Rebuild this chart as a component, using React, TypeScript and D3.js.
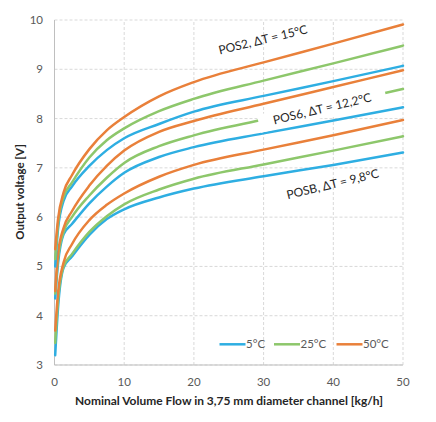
import React from "react";
import * as d3 from "d3";

const flows = [0.1, 0.5, 1.3, 2.5, 5, 7.5, 10, 15, 20, 30, 40, 50];

const pos2_5C = [5.0, 5.75, 6.33, 6.62, 7.04, 7.36, 7.6, 7.89, 8.14, 8.46, 8.76, 9.07];
const pos2_25C = [5.15, 5.85, 6.41, 6.7, 7.21, 7.56, 7.8, 8.15, 8.4, 8.77, 9.12, 9.48];
const pos2_50C = [5.35, 5.95, 6.5, 6.85, 7.38, 7.76, 8.03, 8.45, 8.74, 9.14, 9.52, 9.91];

const pos6_5C = [4.35, 5.05, 5.65, 5.86, 6.28, 6.62, 6.9, 7.22, 7.42, 7.7, 7.96, 8.23];
const pos6_25C = [4.45, 5.15, 5.7, 6.0, 6.44, 6.8, 7.1, 7.44, 7.66, 7.98, 8.28, 8.6];
const pos6_50C = [4.5, 5.25, 5.78, 6.12, 6.64, 7.04, 7.35, 7.73, 7.95, 8.3, 8.64, 8.98];

const posB_5C = [3.2, 4.15, 4.97, 5.2, 5.64, 5.96, 6.16, 6.4, 6.58, 6.83, 7.06, 7.31];
const posB_25C = [3.45, 4.3, 5.0, 5.25, 5.7, 6.02, 6.26, 6.56, 6.78, 7.07, 7.35, 7.64];
const posB_50C = [3.7, 4.45, 5.08, 5.45, 5.94, 6.25, 6.48, 6.82, 7.06, 7.37, 7.66, 7.97];

const temps = ["5°C", "25°C", "50°C"];
const colors = ["#2EAEE2", "#8DC76B", "#E9803A"];

const seriesList = [
  { values: posB_5C, t: 0 },
  { values: posB_25C, t: 1 },
  { values: posB_50C, t: 2 },
  { values: pos6_5C, t: 0 },
  { values: pos6_25C, t: 1 },
  { values: pos6_50C, t: 2 },
  { values: pos2_5C, t: 0 },
  { values: pos2_25C, t: 1 },
  { values: pos2_50C, t: 2 },
];

const xTicks = [0, 10, 20, 30, 40, 50];
const yTicks = [3, 4, 5, 6, 7, 8, 9, 10];

const groupLabels = [
  { text: "POS2, ΔT = 15°C", x: 29.9, y: 9.6, box: false },
  { text: "POS6, ΔT = 12,2°C", x: 38.4, y: 8.2, box: true },
  { text: "POSB, ΔT = 9,8°C", x: 39.9, y: 6.67, box: false },
];

const xTitle = "Nominal Volume Flow in 3,75 mm diameter channel [kg/h]";
const yTitle = "Output voltage [V]";

const FONT = "Lato, 'Open Sans', sans-serif";

export default function App() {
  const W = 436;
  const H = 422;
  const x = d3.scaleLinear().domain([0, 50]).range([54.5, 403]);
  const y = d3.scaleLinear().domain([3, 10]).range([365, 20]);
  const line = d3
    .line<number>()
    .x((_, i) => x(flows[i]))
    .y((d) => y(d))
    .curve(d3.curveMonotoneX);

  const angle = -13.5;

  return (
    <svg
      width={W}
      height={H}
      style={{ position: "fixed", left: 0, top: 0, background: "#fff" }}
      fontFamily={FONT}
    >
      <rect x={0} y={0} width={W} height={H} fill="#fff" />
      {yTicks.map((t) => (
        <line
          key={"gy" + t}
          x1={x(0)}
          x2={x(50)}
          y1={y(t)}
          y2={y(t)}
          stroke="#D9D9D9"
          strokeWidth={1}
          strokeDasharray="3,2"
        />
      ))}
      {xTicks.map((t) => (
        <line
          key={"gx" + t}
          x1={x(t)}
          x2={x(t)}
          y1={y(3)}
          y2={y(10)}
          stroke="#D9D9D9"
          strokeWidth={1}
          strokeDasharray="3,2"
        />
      ))}
      <line x1={x(0)} x2={x(0)} y1={y(3)} y2={y(10)} stroke="#BFBFBF" strokeWidth={1} />
      <line x1={x(0)} x2={x(50)} y1={y(3)} y2={y(3)} stroke="#BFBFBF" strokeWidth={1} />

      {yTicks.map((t) => (
        <text
          key={"ty" + t}
          x={43}
          y={y(t)}
          dy="0.35em"
          textAnchor="end"
          fontSize={11.5}
          fill="#595959"
        >
          {t}
        </text>
      ))}
      {xTicks.map((t) => (
        <text
          key={"tx" + t}
          x={x(t)}
          y={382}
          dy="0.35em"
          textAnchor="middle"
          fontSize={11.5}
          fill="#595959"
        >
          {t}
        </text>
      ))}

      {seriesList.map((s, i) => (
        <path
          key={"s" + i}
          d={line(s.values) || ""}
          fill="none"
          stroke={colors[s.t]}
          strokeWidth={2.5}
          strokeLinejoin="round"
          strokeLinecap="round"
        />
      ))}

      {groupLabels.map((g, i) => (
        <g key={"gl" + i} transform={`translate(${x(g.x)},${y(g.y)}) rotate(${angle})`}>
          {g.box && <rect x={-65} y={-9} width={130} height={18} fill="#fff" />}
          <text
            x={0}
            y={0}
            dy="0.35em"
            textAnchor="middle"
            fontSize={12}
            fill="#262626"
          >
            {g.text}
          </text>
        </g>
      ))}

      {temps.map((t, i) => {
        const lx = [219.5, 274, 336.5][i];
        return (
          <g key={"lg" + i}>
            <line
              x1={lx}
              x2={lx + 26}
              y1={344.3}
              y2={344.3}
              stroke={colors[i]}
              strokeWidth={2.5}
            />
            <text x={lx + 26.5} y={344.3} dy="0.35em" fontSize={11.5} fill="#595959">
              {t}
            </text>
          </g>
        );
      })}

      <text
        x={229}
        y={401}
        dy="0.35em"
        textAnchor="middle"
        fontSize={11.5}
        fontWeight="bold"
        fill="#262626"
        textLength={308}
        lengthAdjust="spacingAndGlyphs"
      >
        {xTitle}
      </text>
      <text
        transform={`translate(19.5,192) rotate(-90)`}
        dy="0.35em"
        textAnchor="middle"
        fontSize={11.5}
        fontWeight="bold"
        fill="#262626"
      >
        {yTitle}
      </text>
    </svg>
  );
}
